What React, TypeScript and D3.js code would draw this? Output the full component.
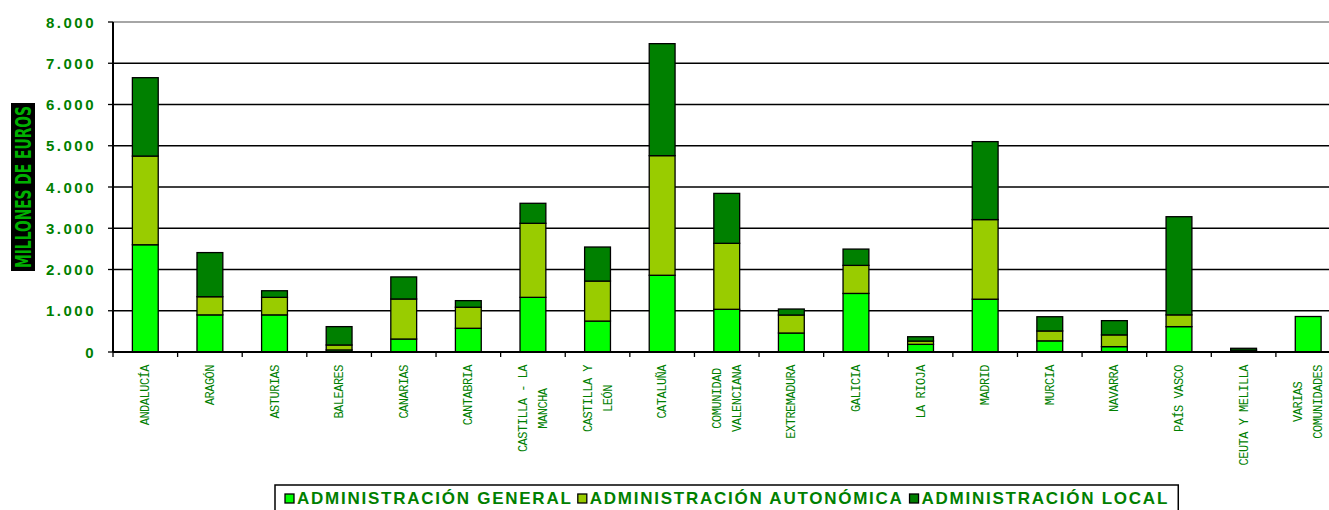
import React from "react";
import * as d3 from "d3";

const categories = [
  "ANDALUCÍA", "ARAGÓN", "ASTURIAS", "BALEARES", "CANARIAS", "CANTABRIA",
  "CASTILLA - LA MANCHA", "CASTILLA Y LEÓN", "CATALUÑA", "COMUNIDAD VALENCIANA",
  "EXTREMADURA", "GALICIA", "LA RIOJA", "MADRID", "MURCIA", "NAVARRA",
  "PAÍS VASCO", "CEUTA Y MELILLA", "VARIAS COMUNIDADES",
];
const categoryLines: string[][] = [
  ["ANDALUCÍA"], ["ARAGÓN"], ["ASTURIAS"], ["BALEARES"], ["CANARIAS"], ["CANTABRIA"],
  ["CASTILLA - LA", "MANCHA"], ["CASTILLA Y", "LEÓN"], ["CATALUÑA"], ["COMUNIDAD", "VALENCIANA"],
  ["EXTREMADURA"], ["GALICIA"], ["LA RIOJA"], ["MADRID"], ["MURCIA"], ["NAVARRA"],
  ["PAÍS VASCO"], ["CEUTA Y MELILLA"], ["VARIAS", "COMUNIDADES"],
];
const general = [2600, 900, 900, 50, 315, 575, 1325, 750, 1860, 1035, 460, 1420, 185, 1280, 270, 130, 615, 45, 860];
const autonomica = [2150, 440, 425, 120, 970, 510, 1795, 970, 2900, 1600, 437, 680, 80, 1930, 240, 285, 285, 0, 0];
const local = [1900, 1070, 160, 445, 535, 160, 485, 825, 2715, 1210, 145, 395, 105, 1890, 345, 345, 2380, 45, 0];
const seriesKeys = ["general", "autonomica", "local"];
const seriesNames = ["ADMINISTRACIÓN GENERAL", "ADMINISTRACIÓN AUTONÓMICA", "ADMINISTRACIÓN LOCAL"];
const seriesColors = ["#00FF00", "#99CC00", "#008000"];
const yTicks = [0, 1000, 2000, 3000, 4000, 5000, 6000, 7000, 8000];
const yTickLabels = ["0", "1.000", "2.000", "3.000", "4.000", "5.000", "6.000", "7.000", "8.000"];
const yTitle = "MILLONES DE EUROS";

const W = 1329;
const H = 510;
const left = 113;
const right = 1340.5;
const top = 22;
const bottom = 352;

let canvasCtx: CanvasRenderingContext2D | null = null;
function measure(text: string, font: string) {
  if (!canvasCtx) canvasCtx = document.createElement("canvas").getContext("2d");
  if (!canvasCtx) return text.length * 10;
  canvasCtx.font = font;
  return canvasCtx.measureText(text).width;
}

export default function App() {
  const x = d3.scaleBand<string>().domain(categories).range([left, right]).paddingInner(0.6).paddingOuter(0.3);
  const y = d3.scaleLinear().domain([0, 8000]).range([bottom, top]);
  const rows = categories.map((c, i) => ({ cat: c, general: general[i], autonomica: autonomica[i], local: local[i] }));
  const stacked = d3.stack<any>().keys(seriesKeys)(rows);
  const step = x.step();
  const boundaries = d3.range(categories.length + 1).map((i) => left + i * step);

  // x labels
  const labelFs = 12;
  const labelLs = -0.5;
  const charW = labelFs * 0.6 + labelLs;
  const labelTop = 365;

  // legend layout
  const legFs = 17;
  const legLs = 1.75;
  const legFont = `bold ${legFs}px 'Liberation Sans', Arial, sans-serif`;
  const legItems: { sq: number; tx: number; name: string; color: string }[] = [];
  let cursor = 285;
  seriesNames.forEach((n, i) => {
    const w = measure(n, legFont) + legLs * (n.length - 1);
    legItems.push({ sq: cursor, tx: cursor + 12, name: n, color: seriesColors[i] });
    cursor = cursor + 12 + w + 7;
  });
  const legRight = cursor - 7 + 11;

  return (
    <svg width={W} height={H} style={{ position: "absolute", left: 0, top: 0, background: "#fff" }}>
      {/* gridlines */}
      {yTicks.slice(1).map((t) => (
        <line key={t} x1={left} x2={right} y1={y(t)} y2={y(t)} stroke={t === 8000 ? "#888" : "#000"} strokeWidth={1.3} />
      ))}
      {/* y ticks & labels */}
      {yTicks.map((t, i) => (
        <g key={"yt" + t}>
          <line x1={left - 5} x2={left} y1={y(t)} y2={y(t)} stroke="#000" strokeWidth={1.3} />
          <text x={96} y={y(t) + 5.5} textAnchor="end" fontFamily="'Liberation Sans', Arial, sans-serif" fontWeight="bold" fontSize={15} letterSpacing={2.5} fill="#008000">
            {yTickLabels[i]}
          </text>
        </g>
      ))}
      {/* y title */}
      <rect x={11} y={103} width={24} height={168} fill="#000" />
      <text transform={`translate(${31},${187}) rotate(-90)`} textAnchor="middle" fontFamily="'DejaVu Sans Condensed', 'DejaVu Sans', sans-serif" fontWeight="bold" fontSize={21} textLength={162} lengthAdjust="spacingAndGlyphs" fill="#00B000">
        {yTitle}
      </text>
      {/* bars */}
      {stacked.map((s, si) => (
        <g key={s.key} fill={seriesColors[si]} stroke="#000" strokeWidth={1.3}>
          {s.map((d, i) => {
            const h = y(d[0]) - y(d[1]);
            if (d[1] - d[0] <= 0) return null;
            return <rect key={i} x={x(categories[i])} y={y(d[1])} width={x.bandwidth()} height={h} />;
          })}
        </g>
      ))}
      {/* axes */}
      <line x1={left} x2={left} y1={top} y2={bottom} stroke="#000" strokeWidth={2} />
      <line x1={left} x2={right} y1={bottom} y2={bottom} stroke="#000" strokeWidth={2} />
      {boundaries.map((b, i) => (
        <line key={"xt" + i} x1={b} x2={b} y1={bottom} y2={bottom + 5} stroke="#000" strokeWidth={1.3} />
      ))}
      {/* x labels */}
      {categoryLines.map((lines, i) => {
        const cx = (x(categories[i]) as number) + x.bandwidth() / 2;
        const maxLen = d3.max(lines, (l) => l.length) as number;
        const cy = labelTop + (maxLen * charW) / 2;
        const n = lines.length;
        return lines.map((l, j) => {
          const off = (j - (n - 1) / 2) * 20;
          return (
            <text key={i + "-" + j} transform={`translate(${cx + off + 4},${cy}) rotate(-90)`} textAnchor="middle" fontFamily="'Liberation Mono', 'Courier New', monospace" fontSize={labelFs} letterSpacing={labelLs} fill="#008000">
              {l}
            </text>
          );
        });
      })}
      {/* legend */}
      <rect x={275} y={485} width={legRight - 275} height={40} fill="#fff" stroke="#000" strokeWidth={1.5} />
      {legItems.map((it) => (
        <g key={it.name}>
          <rect x={it.sq} y={494} width={9} height={9} fill={it.color} stroke="#000" strokeWidth={1.3} />
          <text x={it.tx} y={504} fontFamily="'Liberation Sans', Arial, sans-serif" fontWeight="bold" fontSize={legFs} letterSpacing={legLs} fill="#008000">
            {it.name}
          </text>
        </g>
      ))}
    </svg>
  );
}
